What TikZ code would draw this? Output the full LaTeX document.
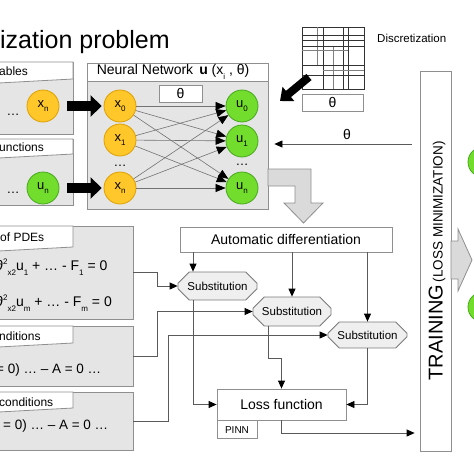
\documentclass[tikz,border=0pt]{standalone}
\usepackage{fontspec}
\setmainfont{Liberation Sans}
\usepackage{tikz}
\usetikzlibrary{arrows.meta,shapes.misc}
\definecolor{panelgray}{HTML}{E5E5E5}
\definecolor{linegray}{HTML}{8F8F8F}
\definecolor{orangefill}{HTML}{FFC729}
\definecolor{orangeline}{HTML}{DDA000}
\definecolor{greenfill}{HTML}{72DD2C}
\definecolor{greenline}{HTML}{47A81E}
\definecolor{subfill}{HTML}{EFEFEF}
\definecolor{subline}{HTML}{7A7A7A}
\definecolor{blockgray}{HTML}{DADADA}
\definecolor{connline}{HTML}{5A5A5A}
\newcommand{\fsz}[1]{\fontsize{#1}{#1}\selectfont}
\newcommand{\lowtxt}[1]{\raisebox{-0.35em}{\fsz{8}#1}}
\newcommand{\hightxt}[1]{\raisebox{0.45em}{\fsz{8}#1}}

\begin{document}
\begin{tikzpicture}[x=1pt, y=-1pt,
    panel/.style={draw=linegray, fill=panelgray, line width=0.8pt, inner sep=0pt},
    wbox/.style={draw=linegray, fill=white, line width=0.8pt, inner sep=0pt},
    inode/.style={circle, draw=orangeline, fill=orangefill, line width=0.8pt, minimum size=32pt, inner sep=0pt, font=\fsz{13}},
    onode/.style={circle, draw=greenline, fill=greenfill, line width=0.8pt, minimum size=32pt, inner sep=0pt, font=\fsz{13}},
    snode/.style={chamfered rectangle, chamfered rectangle sep=7pt, draw=subline, fill=subfill, line width=0.8pt, inner sep=0pt, font=\fsz{11.5}},
    lab/.style={inner sep=0pt},
    conn/.style={draw=connline, line width=0.8pt, -{Triangle[length=8pt,width=7pt,color=black]}},
    nnedge/.style={draw=black!55, line width=0.6pt, -{Triangle[length=10pt,width=8pt,color=black]}},
    fat/.style={line width=10pt, -{Triangle[length=11pt,width=21pt]}},
    block/.style={draw=linegray, fill=blockgray, line width=0.8pt}]
    \useasboundingbox (0,0) rectangle (474,474);
    \clip (0,0) rectangle (474,474);

    \node[lab, anchor=base west, font=\fsz{25}] (title) at (0,48) {ization problem};

    % input panels
    \node[panel, minimum width=93pt, minimum height=72pt] (vars) at (26.5,98) {};
    \draw[wbox] (-20,62) -- (73,62) -- (73,79) -- (-20,84) -- cycle;
    \node[lab, anchor=west, font=\fsz{12}] (varslab) at (-1,71) {ables};
    \node[inode] (xv) at (43,106) {x\lowtxt{n}};
    \node[lab, anchor=base, font=\fsz{13}] (vdots) at (13,115) {\ldots};

    \node[panel, minimum width=93pt, minimum height=66pt] (funcs) at (26.5,172) {};
    \draw[wbox] (-20,139) -- (73,139) -- (73,154) -- (-20,159) -- cycle;
    \node[lab, anchor=west, font=\fsz{12}] (funclab) at (-1,147) {unctions};
    \node[onode] (uf) at (43,188) {u\lowtxt{n}};
    \node[lab, anchor=base, font=\fsz{13}] (fdots) at (13,193) {\ldots};

    \node[panel, minimum width=153pt, minimum height=93pt] (pde) at (56.5,272.5) {};
    \draw[wbox] (-20,226) -- (73,226) -- (73,247) -- (-20,252) -- cycle;
    \node[lab, anchor=west, font=\fsz{12}] (pdelab) at (0,237) {of PDEs};
    \node[lab, anchor=west, font=\fsz{14}] (pde1) at (-4,267) {∂\hightxt{2}\lowtxt{x2}u\lowtxt{1} + \ldots{} - F\lowtxt{1} = 0};
    \node[lab, anchor=west, font=\fsz{14}] (pde2) at (-4,303) {∂\hightxt{2}\lowtxt{x2}u\lowtxt{m} + \ldots{} - F\lowtxt{m} = 0};

    \node[panel, minimum width=153pt, minimum height=60pt] (cond1) at (56.5,356) {};
    \draw[wbox] (-20,326) -- (73,326) -- (73,343) -- (-20,348) -- cycle;
    \node[lab, anchor=west, font=\fsz{12}] (cond1lab) at (-1,336) {nditions};
    \node[lab, anchor=west, font=\fsz{13.5}] (cond1eq) at (-4,370) {= 0) \ldots{} – A = 0 \ldots};

    \node[panel, minimum width=153pt, minimum height=58pt] (cond2) at (56.5,421) {};
    \draw[wbox] (-20,392) -- (73,392) -- (73,408) -- (-20,413) -- cycle;
    \node[lab, anchor=west, font=\fsz{12}] (cond2lab) at (-1,402) {conditions};
    \node[lab, anchor=west, font=\fsz{13.5}] (cond2eq) at (3,426) {= 0) \ldots{} – A = 0 \ldots};

    % neural network
    \node[panel, minimum width=181pt, minimum height=146pt] (nn) at (177.5,136) {};
    \node[wbox, minimum width=181pt, minimum height=18pt, anchor=north] (nnhead) at (nn.north) {};
    \node[lab, anchor=west, font=\fsz{14}] (nnlab) at ([xshift=10pt]nnhead.west) {Neural Network\hspace{6pt}\textbf{u} (x\lowtxt{i} , θ)};
    \node[wbox, minimum width=43pt, minimum height=17pt, font=\fsz{14}] (nnth) at (180.5,93.5) {θ};
    \node[inode] (x0) at (120,106) {x\lowtxt{0}};
    \node[inode] (x1) at (120,140) {x\lowtxt{1}};
    \node[lab, anchor=base, font=\fsz{13}] (xdots) at (120,166) {\ldots};
    \node[inode] (xn) at (120,188) {x\lowtxt{n}};
    \node[onode] (u0) at (242,106) {u\lowtxt{0}};
    \node[onode] (u1) at (242,141) {u\lowtxt{1}};
    \node[lab, anchor=base, font=\fsz{13}] (udots) at (242,165) {\ldots};
    \node[onode] (un) at (242,188) {u\lowtxt{n}};

    \draw[nnedge] (x0) -- (u0);
    \draw[nnedge] (x0) -- (u1);
    \draw[nnedge] (x0) -- (un);
    \draw[nnedge] (x1) -- (u0);
    \draw[nnedge] (x1) -- (u1);
    \draw[nnedge] (x1) -- (un);
    \draw[nnedge] (xn) -- (u0);
    \draw[nnedge] (xn) -- (u1);
    \draw[nnedge] (xn) -- (un);

    \draw[fat] ([xshift=8pt]xv.east) -- ([xshift=-2pt]x0.west);
    \draw[fat] ([xshift=8pt]uf.east) -- ([xshift=-2pt]xn.west);

    % discretization grid
    \draw[black!80, line width=0.7pt] (302,27) rectangle (364,89);
    \draw[black!80, line width=0.7pt] (323,27) -- (323,89) (343,27) -- (343,89) (348,27) -- (348,89);
    \draw[black!50, line width=0.5pt] (317,27) -- (317,65) (333,46) -- (333,89);
    \draw[black!80, line width=0.7pt] (302,35) -- (364,35) (302,40) -- (364,40) (302,46) -- (364,46) (302,65) -- (364,65) (302,75) -- (364,75);
    \draw[black!50, line width=0.5pt] (302,50) -- (348,50) (323,70) -- (364,70);
    \node[lab, anchor=west, font=\fsz{11.5}] (disclab) at (377,38) {Discretization};
    \node[wbox, minimum width=61pt, minimum height=17pt, font=\fsz{14}] (discth) at (332.5,102.5) {θ};
    \coordinate (gridcorner) at (309,77);
    \coordinate (disctip) at (280,101);
    \draw[line width=8pt, -{Triangle[length=11pt,width=18pt]}] (gridcorner) -- (disctip);

    % training
    \node[wbox, minimum width=31pt, minimum height=380pt] (train) at (435.5,261) {};
    \node[lab, rotate=90] (trainlab) at (437,261) {{\fsz{20}TRAINING} {\fsz{13.5}(LOSS MINIMIZATION)}};
    \draw[block] (451,241) -- (458,241) -- (458,229) -- (472,260) -- (458,291) -- (458,279) -- (451,279) -- cycle;
    \node[onode, minimum size=30pt] (r1) at (483,162) {};
    \node[onode, minimum size=30pt] (r2) at (483,307) {};

    \draw[conn, shorten <=8pt, shorten >=6pt] ([yshift=-8pt]nn.east -| train.west) -- ([yshift=-8pt]nn.east);
    \node[font=\fsz{14}] (fbth) at (347,134) {θ};

    % output to differentiation
    \draw[block] (268,169) -- (311,169) -- (311,203) -- (323,203) -- (303.5,223) -- (284,203) -- (295,203) -- (295,186) -- (268,186) -- cycle;

    \node[wbox, minimum width=212pt, minimum height=25pt, font=\fsz{14}] (ad) at (286,239.5) {Automatic differentiation};
    \node[snode, minimum width=79pt, minimum height=28pt] (sub1) at (217.5,286) {Substitution};
    \node[snode, minimum width=78pt, minimum height=29pt] (sub2) at (292,311.5) {Substitution};
    \node[snode, minimum width=79pt, minimum height=26pt] (sub3) at (367.5,335) {Substitution};
    \node[wbox, minimum width=129pt, minimum height=31pt, font=\fsz{14}] (loss) at (281.5,404.5) {Loss function};
    \node[wbox, minimum width=40pt, minimum height=18pt, anchor=north west, font=\fsz{10}] (pinn) at (loss.south west) {PINN};

    \draw[conn] (pde.east) -- ++(24,0) |- (sub1.west);
    \draw[conn] (cond1.east) -- ++(24,0) |- (sub2.west);
    \draw[conn] (cond2.east) -- ++(35,0) |- (sub3.west);
    \draw[conn] ([xshift=-24.5pt]ad.south -| sub1.north) -- ([xshift=-24.5pt]sub1.north);
    \draw[conn] (ad.south -| sub2.north) -- (sub2.north);
    \draw[conn] (ad.south -| sub3.north) -- (sub3.north);
    \draw[conn] ([xshift=-24.5pt]sub1.south) |- (loss.west);
    \draw[conn] ([xshift=-24pt]sub2.south) -- ++(0,32) -| (loss.north);
    \draw[conn] (sub3.south) |- (loss.east);
    \draw[conn, shorten >=5pt] (loss.south) |- ([yshift=-172pt]train.west);
\end{tikzpicture}
\end{document}
